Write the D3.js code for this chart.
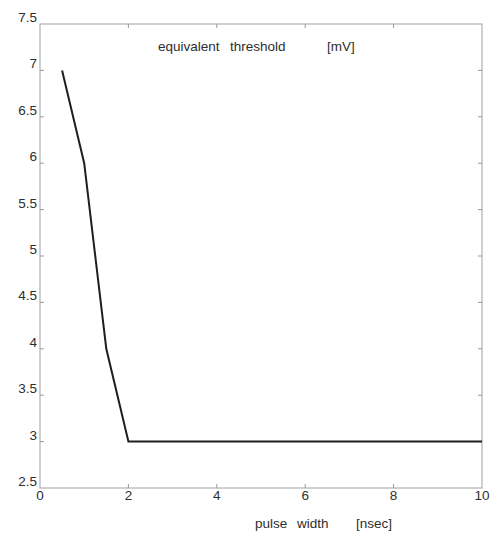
<!DOCTYPE html>
<html><head><meta charset="utf-8">
<script src="https://cdn.jsdelivr.net/npm/d3@7"></script>
<style>body{margin:0;background:#fff}svg text{font-family:"Liberation Sans",Arial,sans-serif;fill:#2e2e2e}</style>
</head><body><svg id="c" width="495" height="538"></svg>
<script>
const pulseWidth = [0.5, 1, 1.5, 2, 10];
const threshold = [7, 6, 4, 3, 3];
const xTicks = [0, 2, 4, 6, 8, 10];
const yTicks = [2.5, 3, 3.5, 4, 4.5, 5, 5.5, 6, 6.5, 7, 7.5];
const titleWords = ["equivalent", "threshold", "[mV]"];
const xLabelWords = ["pulse", "width", "[nsec]"];

const svg = d3.select("#c");
const m = {l:40, t:24, r:482, b:488};
const x = d3.scaleLinear().domain([0,10]).range([m.l, m.r]);
const y = d3.scaleLinear().domain([2.5,7.5]).range([m.b, m.t]);

// frame
svg.append("rect").attr("x",m.l).attr("y",m.t).attr("width",m.r-m.l).attr("height",m.b-m.t)
  .attr("fill","none").attr("stroke","#a0a0a0").attr("stroke-width",1);

// ticks inside
const tl = 4;
const gx = svg.append("g").attr("stroke","#999");
xTicks.slice(1,-1).forEach(v=>{
  gx.append("line").attr("x1",x(v)).attr("x2",x(v)).attr("y1",m.b).attr("y2",m.b-tl);
  gx.append("line").attr("x1",x(v)).attr("x2",x(v)).attr("y1",m.t).attr("y2",m.t+tl);
});
yTicks.slice(1,-1).forEach(v=>{
  gx.append("line").attr("y1",y(v)).attr("y2",y(v)).attr("x1",m.l).attr("x2",m.l+tl);
  gx.append("line").attr("y1",y(v)).attr("y2",y(v)).attr("x1",m.r).attr("x2",m.r-tl);
});

// tick labels
svg.append("g").selectAll("text").data(yTicks).join("text")
  .attr("x",m.l-3).attr("y",d=>y(d)-2).attr("text-anchor","end").attr("font-size",13.5)
  .text(d=>d);
svg.append("g").selectAll("text").data(xTicks).join("text")
  .attr("x",d=>x(d)).attr("y",m.b+12).attr("text-anchor","middle").attr("font-size",13.5)
  .text(d=>d);

// line
svg.append("path").datum(pulseWidth.map((d,i)=>[d,threshold[i]]))
  .attr("d",d3.line().x(d=>x(d[0])).y(d=>y(d[1])))
  .attr("fill","none").attr("stroke","#1e1e1e").attr("stroke-width",2);

// title and axis label (word positions as in the original)
const titleX = [158, 230, 327];
svg.append("g").selectAll("text").data(titleWords).join("text")
  .attr("x",(d,i)=>titleX[i]).attr("y",51).attr("font-size",13.5).text(d=>d);
const xlX = [255, 297, 356];
svg.append("g").selectAll("text").data(xLabelWords).join("text")
  .attr("x",(d,i)=>xlX[i]).attr("y",528).attr("font-size",13.5).text(d=>d);
</script></body></html>
